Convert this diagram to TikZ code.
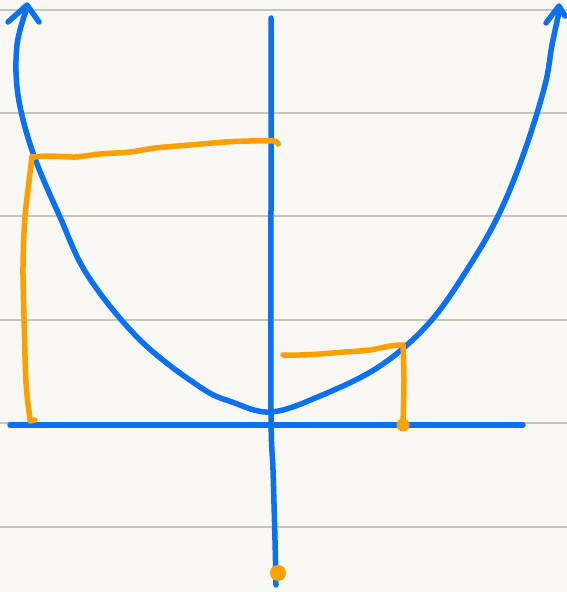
\documentclass[tikz,border=0pt]{standalone}
\usetikzlibrary{calc}
\definecolor{paper}{RGB}{250,248,243}
\definecolor{rule}{RGB}{200,196,190}
\definecolor{inkblue}{RGB}{10,112,245}
\definecolor{inkorange}{RGB}{255,160,0}
\begin{document}
\begin{tikzpicture}[x=1pt,y=-1pt,
  rulestyle/.style={draw=rule,line width=1.3pt},
  blueink/.style={draw=inkblue,line width=5.5pt,line cap=round,line join=round},
  orangeink/.style={draw=inkorange,line width=5.5pt,line cap=round,line join=round}]
\fill[paper] (0,0) rectangle (567,592);
\useasboundingbox (0,0) rectangle (567,592);
% ruled lines
\foreach \yy in {10,113,216,320,423,527}
  \draw[rulestyle] (0,\yy) -- (567,\yy);
% axes
\coordinate (xl) at (10,425);
\coordinate (xr) at (523,425);
\coordinate (yt) at (271,18);
\coordinate (yb) at (276,585);
\draw[blueink] (xl) -- (xr);
\draw[blueink] plot[smooth,tension=0.6] coordinates {(yt) (271,200) (271,412) (273,470) (275,540) (yb)};
% parabola
\draw[blueink] plot[smooth,tension=0.6] coordinates {
 (27,8) (17,45) (18,95) (33,153) (60,217) (88,276) (140,340) (200,387)
 (232,402) (271,412) (320,396) (380,366) (430,322) (470,265) (500,212)
 (525,150) (545,85) (552,45) (560,8)};
% arrowheads
\draw[blueink] (8,22) -- (27,5) -- (39,22);
\draw[blueink] (546,23) -- (559,6) -- (565,16);
% orange markings left
\draw[orangeink] plot[smooth,tension=0.5] coordinates {
 (30,419) (26,383) (24,317) (23,267) (25,217) (32,157)};
\draw[orangeink] plot[smooth,tension=0.5] coordinates {
 (32,157) (50,156) (75,157) (100,154) (130,152) (155,148) (190,145) (225,142) (250,141) (274,141) (278,144)};
\draw[orangeink] (30,421) -- (35,420);
% orange markings right
\draw[orangeink] plot[smooth,tension=0.5] coordinates {
 (283,355) (300,355) (320,354) (345,352) (370,350) (390,346) (403,345)};
\draw[orangeink] plot[smooth,tension=0.5] coordinates {(403,345) (404,380) (403,425)};
\fill[inkorange] (403,425) circle[radius=6.5pt];
% orange dot on y-axis
\fill[inkorange] (278,573) circle[radius=8pt];
\end{tikzpicture}
\end{document}
